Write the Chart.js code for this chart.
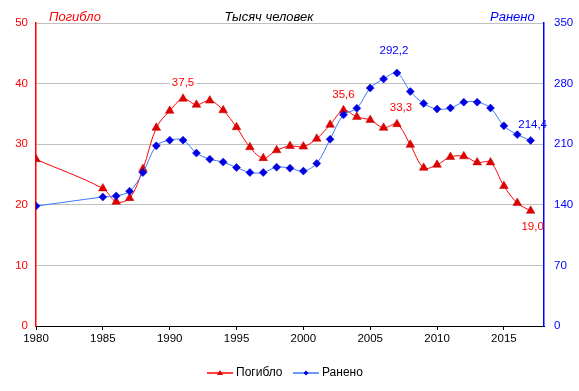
<!DOCTYPE html>
<html>
<head>
<meta charset="utf-8">
<script src="https://cdn.jsdelivr.net/npm/chart.js@4.4.1/dist/chart.umd.min.js"></script>
<style>
  html, body { margin: 0; padding: 0; background: #ffffff; }
  #wrap { position: relative; width: 579px; height: 391px; }
</style>
</head>
<body>
<div id="wrap"><canvas id="c" width="579" height="391"></canvas></div>
<script>
// ---- Data (thousand people) ----
const years = [1980, 1985, 1986, 1987, 1988, 1989, 1990, 1991, 1992, 1993, 1994, 1995, 1996, 1997, 1998, 1999,
  2000, 2001, 2002, 2003, 2004, 2005, 2006, 2007, 2008, 2009, 2010, 2011, 2012, 2013, 2014, 2015, 2016, 2017];
const killed = [27.5, 22.7, 20.5, 21.1, 25.9, 32.7, 35.5, 37.5, 36.5, 37.2, 35.6, 32.8, 29.5, 27.7, 29.0, 29.7,
  29.6, 30.9, 33.2, 35.6, 34.5, 34.0, 32.7, 33.3, 29.9, 26.1, 26.6, 27.9, 28.0, 27.0, 27.0, 23.1, 20.3, 19.0];
const injured = [138.5, 149.0, 150.3, 155.7, 177.2, 208.1, 214.7, 214.7, 199.7, 192.7, 189.3, 183.1, 177.3, 177.3, 183.5, 182.3,
  178.9, 187.8, 215.7, 243.9, 251.4, 274.9, 285.4, 292.2, 270.9, 257.0, 250.6, 251.8, 258.6, 258.6, 251.8, 231.2, 221.1, 214.4];
const leftTicks = [0, 10, 20, 30, 40, 50];
const rightTicks = [0, 70, 140, 210, 280, 350];
const xTickYears = [1980, 1985, 1990, 1995, 2000, 2005, 2010, 2015];
const seriesNames = ['Погибло', 'Ранено'];
const axisTitle = 'Тысяч человек';
// labelled points: [series, year, text, dx, dy]
const pointLabels = [
  [0, 1991, '37,5', 0, -16],
  [0, 2003, '35,6', 0, -15],
  [0, 2007, '33,3', 4, -16],
  [1, 2007, '292,2', -3, -22],
  [1, 2017, '214,4', 2, -16],
  [0, 2017, '19,0', 2, 16]
];

const FONT = '"Liberation Sans", Arial, sans-serif';
const RED = '#ff0000', RED_M = '#e00000';
const BLUE_L = '#3a78ff', BLUE_M = '#0000e0', BLUE = '#0000ff';

const killedPts = years.map((y, i) => ({ x: y, y: killed[i] }));
const injuredPts = years.map((y, i) => ({ x: y, y: injured[i] }));

const overlay = {
  id: 'overlay',
  afterDatasetsDraw(chart) {
    const ctx = chart.ctx;
    const ca = chart.chartArea;
    const xs = chart.scales.x, yl = chart.scales.yL, yr = chart.scales.yR;
    ctx.save();
    ctx.textBaseline = 'middle';
    ctx.textAlign = 'center';
    ctx.font = '11.5px ' + FONT;
    pointLabels.forEach(([s, yr_, txt, dx, dy]) => {
      const idx = years.indexOf(yr_);
      const px = xs.getPixelForValue(yr_) + dx;
      const py = (s === 0 ? yl.getPixelForValue(killed[idx]) : yr.getPixelForValue(injured[idx])) + dy;
      const w = ctx.measureText(txt).width;
      const x0 = Math.max(ca.left + 2, px - w / 2 - 2);
      const x1 = Math.min(ca.right - 2, px + w / 2 + 2);
      ctx.fillStyle = '#ffffff';
      if (x1 > x0) ctx.fillRect(x0, py - 6, x1 - x0, 12);
      ctx.fillStyle = s === 0 ? RED : BLUE;
      ctx.fillText(txt, px, py);
    });
    // titles
    ctx.font = 'italic 13px ' + FONT;
    ctx.textAlign = 'left';
    ctx.fillStyle = RED;
    ctx.fillText(seriesNames[0], 49, 17);
    ctx.fillStyle = '#000000';
    ctx.textAlign = 'center';
    ctx.fillText(axisTitle, 269, 17);
    ctx.fillStyle = BLUE;
    ctx.textAlign = 'left';
    ctx.fillText(seriesNames[1], 490, 17);
    // legend
    ctx.font = '12px ' + FONT;
    const ly = 373;
    ctx.lineWidth = 1.5;
    ctx.strokeStyle = RED;
    ctx.beginPath(); ctx.moveTo(207, ly); ctx.lineTo(233, ly); ctx.stroke();
    ctx.fillStyle = RED_M;
    ctx.beginPath(); ctx.moveTo(220, ly - 3); ctx.lineTo(223, ly + 2); ctx.lineTo(217, ly + 2); ctx.closePath(); ctx.fill();
    ctx.fillStyle = '#000000';
    ctx.textAlign = 'left';
    ctx.fillText(seriesNames[0], 236, ly);
    ctx.strokeStyle = BLUE_L;
    ctx.beginPath(); ctx.moveTo(293, ly); ctx.lineTo(319, ly); ctx.stroke();
    ctx.fillStyle = BLUE_M;
    ctx.beginPath(); ctx.moveTo(306, ly - 2.5); ctx.lineTo(308.5, ly); ctx.lineTo(306, ly + 2.5); ctx.lineTo(303.5, ly); ctx.closePath(); ctx.fill();
    ctx.fillStyle = '#000000';
    ctx.fillText(seriesNames[1], 322, ly);
    ctx.restore();
  }
};

new Chart(document.getElementById('c'), {
  type: 'line',
  data: {
    datasets: [
      {
        label: seriesNames[0], data: killedPts, yAxisID: 'yL', order: 2,
        borderColor: RED, borderWidth: 1, tension: 0.35,
        pointStyle: 'triangle', pointRadius: 5, pointBackgroundColor: RED_M, pointBorderColor: '#c00000', pointBorderWidth: 0.5
      },
      {
        label: seriesNames[1], data: injuredPts, yAxisID: 'yR', order: 1,
        borderColor: BLUE_L, borderWidth: 1, tension: 0.35,
        pointStyle: 'rectRot', pointRadius: 4, pointBackgroundColor: BLUE_M, pointBorderColor: BLUE_M, pointBorderWidth: 0.5
      }
    ]
  },
  options: {
    responsive: false,
    animation: false,
    devicePixelRatio: 1,
    layout: { padding: { left: 0, right: 0, top: 23, bottom: 0 } },
    plugins: { legend: { display: false }, tooltip: { enabled: false } },
    scales: {
      x: {
        type: 'linear', min: 1980, max: 2018,
        afterBuildTicks: (s) => { s.ticks = xTickYears.map(v => ({ value: v })); },
        afterFit: (s) => { s.height = 65; },
        ticks: { callback: (v) => String(v), color: '#000000', font: { size: 11.5, family: FONT }, padding: 2, maxRotation: 0, autoSkip: false },
        grid: { drawOnChartArea: false, drawTicks: true, tickLength: 4, color: '#000000' },
        border: { color: '#000000', width: 1 }
      },
      yL: {
        position: 'left', min: 0, max: 50,
        afterBuildTicks: (s) => { s.ticks = leftTicks.map(v => ({ value: v })); },
        afterFit: (s) => { s.width = 36; },
        ticks: { color: RED, font: { size: 11.5, family: FONT }, padding: 8 },
        grid: { color: '#c0c0c0', drawTicks: false, lineWidth: 1 },
        border: { color: RED, width: 1.5 }
      },
      yR: {
        position: 'right', min: 0, max: 350,
        afterBuildTicks: (s) => { s.ticks = rightTicks.map(v => ({ value: v })); },
        afterFit: (s) => { s.width = 35; },
        ticks: { color: BLUE, font: { size: 11.5, family: FONT }, padding: 10 },
        grid: { drawOnChartArea: false, drawTicks: false },
        border: { color: BLUE, width: 1.5 }
      }
    }
  },
  plugins: [overlay]
});
</script>
</body>
</html>
